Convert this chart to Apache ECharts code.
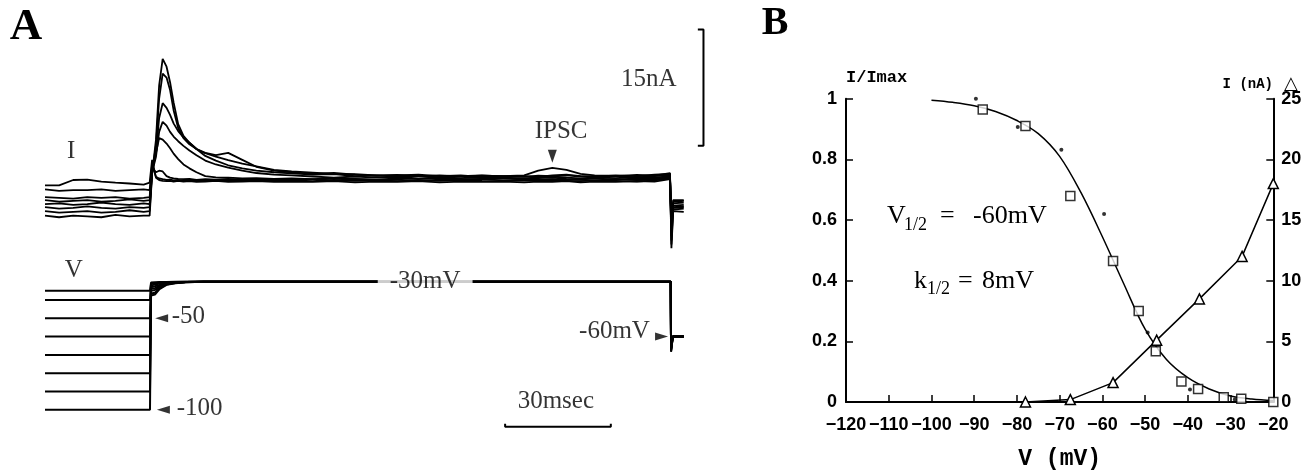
<!DOCTYPE html>
<html><head><meta charset="utf-8">
<script src="https://cdn.jsdelivr.net/npm/echarts/dist/echarts.min.js"></script>
<style>html,body{margin:0;padding:0;background:#fff}#c{width:1315px;height:476px}</style>
</head><body><div id="c"></div>
<script>
// ---------- Panel A : current traces (nA) vs time (ms, 0 = step onset) ----------
const timeI = [-30,-26,-22,-18,-14,-10,-6,-2,-0.3, 0.4,1.5,2.4,3.4,4.5,5.5,6.5,7.8, 9.3,11,13,15.5,18.5,22,26,30,35, 40,46,52,58,64,70,76,82,88,94,100, 106,110,114,118,122,126,132,138,143,147.4, 147.8,148.3,151.3];
const traceI1 = [-4.6,-4.8,-4.6,-4.7,-4.8,-4.5,-4.7,-4.6,-4.6, 0.8,5.2,12.2,15.6,14.6,12.6,10.0,7.2, 5.7,4.8,4.0,3.45,3.0,2.55,2.1,1.75,1.3, 1.1,0.95,0.8,0.75,0.6,0.65,0.5,0.6,0.45,0.55,0.5, 0.4,0.55,0.5,0.6,0.45,0.5,0.6,0.5,0.7,0.8, -8.8,-4.0,-4.1];
const traceI2 = [-4.0,-4.2,-4.1,-4.0,-4.2,-4.1,-3.9,-4.1,-4.0, 0.9,4.5,10.5,13.7,13.2,11.6,9.0,6.7, 5.4,4.6,4.0,3.5,3.2,3.5,2.6,1.7,1.2, 1.0,0.8,0.9,0.7,0.55,0.6,0.7,0.5,0.6,0.4,0.5, 0.6,1.2,1.55,1.3,0.8,0.6,0.5,0.65,0.55,0.9, -8.3,-3.6,-3.5];
const traceI3 = [-3.5,-3.7,-3.6,-3.4,-3.6,-3.7,-3.5,-3.6,-3.5, 1.1,3.5,8.0,9.9,9.3,8.4,7.3,6.3, 5.5,4.8,4.0,3.1,2.5,1.9,1.5,1.2,1.0, 0.85,0.7,0.75,0.5,0.6,0.4,0.55,0.35,0.5,0.6,0.45, 0.5,0.4,0.6,0.7,0.5,0.4,0.5,0.35,0.5,0.6, -7.8,-3.3,-3.2];
const traceI4 = [-3.1,-3.0,-3.2,-3.1,-2.9,-3.1,-3.2,-3.0,-3.1, 1.0,3.0,6.2,7.5,7.0,6.2,5.6,5.0, 4.4,3.8,3.2,2.5,2.0,1.6,1.2,0.9,0.7, 0.6,0.45,0.3,0.45,0.3,0.4,0.2,0.35,0.25,0.4,0.3, 0.2,0.35,0.45,0.3,0.2,0.35,0.25,0.4,0.3,0.5, -7.2,-3.0,-2.9];
const traceI5 = [-2.6,-2.8,-2.7,-2.6,-2.8,-2.7,-2.5,-2.7,-2.6, 1.2,3.5,5.4,5.2,4.7,4.1,3.4,2.7, 2.0,1.5,1.0,0.5,0.35,0.3,0.2,0.25,0.15, 0.2,0.1,0.25,0.15,0.05,0.2,0.1,0.25,0.1,0.15,0.2, 0.1,0.25,0.3,0.15,0.1,0.2,0.05,0.2,0.15,0.4, -6.5,-2.8,-2.7];
const traceI6 = [-2.2,-2.3,-2.4,-2.2,-2.3,-2.2,-2.4,-2.3,-2.2, 1.6,1.0,1.2,1.1,0.5,0.3,0.2,0.15, 0.1,0.15,0.0,0.1,0.05,0.15,0.0,0.1,0.05, 0.0,0.1,-0.05,0.1,0.0,0.05,-0.1,0.05,0.0,0.1,-0.05, 0.05,0.0,0.1,0.0,0.05,-0.05,0.1,0.0,0.05,0.3, -6.0,-2.6,-2.6];
const traceI7 = [-1.2,-1.4,-1.3,-1.3,-1.2,-1.4,-1.3,-1.2,-1.3, 2.0,0.4,0.2,0.1,0.0,0.05,-0.05,0.0, -0.1,0.0,-0.05,-0.1,0.0,-0.1,-0.05,0.0,-0.1, -0.05,-0.15,0.0,-0.1,-0.05,-0.15,-0.05,-0.1,0.0,-0.1,-0.15, -0.05,-0.1,0.0,-0.1,-0.15,-0.05,-0.1,-0.2,-0.05,0.2, -5.5,-3.8,-3.7];
const traceI8 = [-0.7,-0.7,0.0,0.05,-0.2,-0.35,-0.45,-0.6,-0.35, 2.6,0.3,0.0,-0.1,-0.15,-0.1,-0.2,-0.1, -0.2,-0.15,-0.25,-0.2,-0.1,-0.25,-0.2,-0.15,-0.25, -0.2,-0.25,-0.15,-0.3,-0.2,-0.25,-0.15,-0.3,-0.2,-0.25,-0.2, -0.3,-0.2,-0.25,-0.15,-0.3,-0.2,-0.25,-0.15,-0.2,0.1, -5.0,-3.5,-3.4];

// ---------- Panel A : voltage commands (mV) ----------
const timeV = [-30,-0.2,0.1,1.2,2.5,4.5,7,10,15,147.6,147.7,148.2,151.3];
const traceV1 = [-100,-100,-37.5,-37,-34,-31.7,-30.8,-30.3,-30,-30,-68.3,-60,-60];
const traceV2 = [-90,-90,-36.5,-36,-33.5,-31.5,-30.7,-30.3,-30,-30,-68,-60,-60];
const traceV3 = [-80,-80,-35,-34.5,-33,-31.2,-30.6,-30.2,-30,-30,-67.5,-60,-60];
const traceV4 = [-70,-70,-34,-33.5,-32.5,-31,-30.5,-30.2,-30,-30,-67,-60,-60];
const traceV5 = [-60,-60,-33,-32.5,-31.8,-30.8,-30.4,-30.1,-30,-30,-66.5,-60,-60];
const traceV6 = [-50,-50,-32,-31.5,-31,-30.5,-30.3,-30.1,-30,-30,-66,-60,-60];
const traceV7 = [-40,-40,-31,-30.8,-30.5,-30.3,-30.2,-30,-30,-30,-65.5,-60,-60];
const traceV8 = [-35,-35,-30.5,-30.3,-30.2,-30.1,-30,-30,-30,-30,-65,-60,-60];

// scale bars (data units)
const barCurrent = [[155.3,19.4],[156.9,19.4],[156.9,4.4],[155.3,4.4]];   // 15 nA
const barTime = [[100.6,-107.6],[100.6,-109.2],[130.6,-109.2],[130.6,-107.6]]; // 30 ms

// ---------- Panel B ----------
const squareV = [-88,-78,-67.5,-57.5,-51.5,-47.5,-41.5,-37.6,-31.6,-27.5,-20];
const squareY = [0.964,0.91,0.679,0.465,0.30,0.167,0.068,0.043,0.016,0.011,0.0];
const dotV = [-89.6,-79.8,-69.6,-59.6,-49.4,-39.5,-29];
const dotY = [1.0,0.907,0.832,0.62,0.229,0.041,0.008];
const triV = [-78,-67.5,-57.5,-47.3,-37.3,-27.3,-20];
const triI = [0,0.2,1.6,5.1,8.5,12.0,18.0];
const fitV = [-100,-95,-90,-85,-80,-75,-70,-65,-60,-55,-50,-45,-40,-35,-30,-25,-20];
const fitY = [0.995,0.988,0.977,0.958,0.928,0.885,0.81,0.69,0.545,0.39,0.24,0.14,0.08,0.043,0.02,0.01,0.005];
const xTicksB = {min:-120, max:-20, step:10};

const zip = (a,b)=>a.map((x,i)=>[x,b[i]]);
const SERIF = '"Liberation Serif","Times New Roman",serif';
const SANS = '"Liberation Sans",Arial,sans-serif';
const MONO = '"Liberation Mono","Courier New",monospace';

const chart = echarts.init(document.getElementById('c'), null, {renderer:'canvas'});
const series = [];
[traceI1,traceI2,traceI3,traceI4,traceI5,traceI6,traceI7,traceI8].forEach(tr=>{
  series.push({type:'line',xAxisIndex:0,yAxisIndex:0,data:zip(timeI,tr),symbol:'none',clip:false,
    lineStyle:{color:'#000',width:1.8},silent:true});
});
[traceV1,traceV2,traceV3,traceV4,traceV5,traceV6,traceV7,traceV8].forEach(tr=>{
  series.push({type:'line',xAxisIndex:1,yAxisIndex:1,data:zip(timeV,tr),symbol:'none',clip:false,
    lineStyle:{color:'#000',width:2},silent:true});
});
series.push({type:'line',xAxisIndex:0,yAxisIndex:0,data:barCurrent,symbol:'none',clip:false,lineStyle:{color:'#000',width:2}});
series.push({type:'line',xAxisIndex:1,yAxisIndex:1,data:barTime,symbol:'none',clip:false,lineStyle:{color:'#000',width:2}});

const txt = (fs, extra)=>Object.assign({show:true,position:'inside',color:'#000',fontFamily:SERIF,fontSize:fs},extra||{});
// annotations on current grid
series.push({type:'scatter',xAxisIndex:0,yAxisIndex:0,z:5,clip:false,silent:true,data:[
  {value:[114.0,3.05],symbol:'triangle',symbolRotate:180,symbolSize:[9,13],itemStyle:{color:'#000'}},
  {value:[116.5,6.3],symbolSize:0,label:txt(25,{formatter:'IPSC'})},
  {value:[141.4,12.9],symbolSize:0,label:txt(25,{formatter:'15nA'})},
  {value:[-22.6,3.65],symbolSize:0,label:txt(25,{formatter:'I'})}
]});
// annotations on voltage grid
series.push({type:'scatter',xAxisIndex:1,yAxisIndex:1,z:5,clip:false,silent:true,data:[
  {value:[3.1,-50],symbol:'triangle',symbolRotate:90,symbolSize:[8,13],itemStyle:{color:'#000'}},
  {value:[3.6,-100],symbol:'triangle',symbolRotate:90,symbolSize:[8,13],itemStyle:{color:'#000'}},
  {value:[145,-60],symbol:'triangle',symbolRotate:-90,symbolSize:[8,13],itemStyle:{color:'#000'}},
  {value:[5.96,-48.8],symbolSize:0,label:txt(25,{formatter:'-50',align:'left'})},
  {value:[7.38,-99.2],symbolSize:0,label:txt(25,{formatter:'-100',align:'left'})},
  {value:[141.7,-57.3],symbolSize:0,label:txt(25,{formatter:'-60mV',align:'right'})},
  {value:[115,-95.6],symbolSize:0,label:txt(25,{formatter:'30msec'})},
  {value:[77.9,-30],symbolSize:0,label:txt(25,{formatter:'-30mV',backgroundColor:'#fff',padding:[4,12]})},
  {value:[-21.8,-23.6],symbolSize:0,label:txt(25,{formatter:'V'})}
]});

// panel B
series.push({type:'line',xAxisIndex:2,yAxisIndex:2,data:zip(fitV,fitY),symbol:'none',smooth:0.35,
  lineStyle:{color:'#000',width:1.5}});
series.push({type:'line',xAxisIndex:2,yAxisIndex:3,data:zip(triV,triI),symbol:'triangle',symbolSize:10,showAllSymbol:true,
  lineStyle:{color:'#000',width:1.5},itemStyle:{color:'#fff',borderColor:'#000',borderWidth:1.5},z:4});
series.push({type:'scatter',xAxisIndex:2,yAxisIndex:2,data:zip(squareV,squareY),symbol:'rect',symbolSize:9,
  itemStyle:{color:'#fff',borderColor:'#000',borderWidth:1.5},z:5});
series.push({type:'scatter',xAxisIndex:2,yAxisIndex:2,data:zip(dotV,dotY),symbol:'circle',symbolSize:4,
  itemStyle:{color:'#000'},z:6});

const axB = (extra)=>Object.assign({
  axisLine:{show:true,lineStyle:{color:'#000',width:2}},
  axisTick:{show:true,inside:true,length:7,lineStyle:{color:'#000',width:1.5}},
  splitLine:{show:false},
  axisLabel:{color:'#000',fontFamily:SANS,fontWeight:'bold',fontSize:18}
},extra);

const option = {
  animation:false,
  backgroundColor:'#fff',
  grid:[
    {left:45,top:24.8,width:669.4,height:232.8},
    {left:45,top:263.4,width:669.4,height:183},
    {left:846,top:98.7,width:427.3,height:310.6}
  ],
  xAxis:[
    {gridIndex:0,type:'value',min:-30,max:160,show:false},
    {gridIndex:1,type:'value',min:-30,max:160,show:false},
    axB({gridIndex:2,type:'value',min:xTicksB.min,max:xTicksB.max,interval:xTicksB.step,
      axisLabel:{color:'#000',fontFamily:SANS,fontWeight:'bold',fontSize:18,margin:14,
        formatter:v=>String(v).replace('-','\u2212')},
      name:'V (mV)',nameLocation:'middle',nameGap:46,
      nameTextStyle:{color:'#000',fontFamily:MONO,fontWeight:'bold',fontSize:23}})
  ],
  yAxis:[
    {gridIndex:0,type:'value',min:-10,max:20,show:false},
    {gridIndex:1,type:'value',min:-120,max:-20,show:false},
    axB({gridIndex:2,type:'value',min:0,max:1,interval:0.2,position:'left',
      axisLabel:{color:'#000',fontFamily:SANS,fontWeight:'bold',fontSize:18,margin:9},
      name:'I/Imax',nameLocation:'end',nameGap:12,
      nameTextStyle:{color:'#000',fontFamily:MONO,fontWeight:'bold',fontSize:17,align:'left'}}),
    axB({gridIndex:2,type:'value',min:0,max:25,interval:5,position:'right',
      axisLabel:{color:'#000',fontFamily:SANS,fontWeight:'bold',fontSize:18,margin:8}})
  ],
  graphic:[
    {type:'text',x:26,y:27,style:{text:'A',font:'bold 45px '+SERIF,fill:'#000',align:'center',verticalAlign:'middle'}},
    {type:'text',x:775,y:24,style:{text:'B',font:'bold 40px '+SERIF,fill:'#000',align:'center',verticalAlign:'middle'}},
    {type:'text',x:887,y:216,style:{text:'V',font:'26px '+SERIF,fill:'#000',align:'left',verticalAlign:'middle'}},
    {type:'text',x:904,y:225,style:{text:'1/2',font:'18px '+SERIF,fill:'#000',align:'left',verticalAlign:'middle'}},
    {type:'text',x:940,y:216,style:{text:'=',font:'26px '+SERIF,fill:'#000',align:'left',verticalAlign:'middle'}},
    {type:'text',x:973,y:216,style:{text:'-60mV',font:'26px '+SERIF,fill:'#000',align:'left',verticalAlign:'middle'}},
    {type:'text',x:914,y:281,style:{text:'k',font:'26px '+SERIF,fill:'#000',align:'left',verticalAlign:'middle'}},
    {type:'text',x:927,y:289,style:{text:'1/2',font:'18px '+SERIF,fill:'#000',align:'left',verticalAlign:'middle'}},
    {type:'text',x:958,y:281,style:{text:'=',font:'26px '+SERIF,fill:'#000',align:'left',verticalAlign:'middle'}},
    {type:'text',x:982,y:281,style:{text:'8mV',font:'26px '+SERIF,fill:'#000',align:'left',verticalAlign:'middle'}},
    {type:'text',x:1273,y:84,style:{text:'I (nA)',font:'bold 14px '+MONO,fill:'#000',align:'right',verticalAlign:'middle'}},
    {type:'text',x:1291,y:84,style:{text:'\u25B3',font:'18px "DejaVu Sans"',fill:'#000',align:'center',verticalAlign:'middle'}}
  ],
  series:series
};
chart.setOption(option);
</script></body></html>
